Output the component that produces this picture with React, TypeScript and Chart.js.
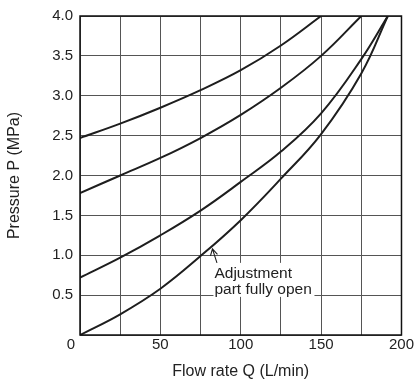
import { useEffect, useRef } from 'react';
import { Chart, registerables } from 'chart.js';

Chart.register(...registerables);

// Flow rate Q (L/min) / Pressure P (MPa) for each curve
const curve1Q = [0, 25, 50, 75, 100, 125, 150];
const curve1P = [2.47, 2.65, 2.85, 3.07, 3.32, 3.63, 4.0];
const curve2Q = [0, 25, 50, 75, 100, 125, 150, 175];
const curve2P = [1.78, 2.0, 2.22, 2.47, 2.76, 3.1, 3.5, 4.0];
const curve3Q = [0, 25, 50, 75, 100, 125, 150, 175, 191.5];
const curve3P = [0.72, 0.97, 1.25, 1.56, 1.92, 2.3, 2.78, 3.46, 4.0];
const curve4Q = [0, 25, 50, 75, 100, 125, 150, 175, 191.5];
const curve4P = [0, 0.26, 0.58, 0.99, 1.44, 1.96, 2.52, 3.28, 4.0];

const xTitle = 'Flow rate Q (L/min)';
const yTitle = 'Pressure P (MPa)';
const xLabelled = [50, 100, 150, 200];
const originLabel = '0';
const noteLines = ['Adjustment', 'part fully open'];
const noteQ = 82.4;
const noteP = 1.08;

const FONT = "'Liberation Sans', Arial, sans-serif";
const TEXT = '#222';
const LINE = '#1e1e1e';

const toPts = (q: number[], p: number[]) => q.map((v, i) => ({ x: v, y: p[i] }));

export default function App() {
  const ref = useRef<HTMLCanvasElement | null>(null);

  useEffect(() => {
    if (!ref.current) return;

    const extras = {
      id: 'extras',
      beforeDatasetsDraw(chart: any) {
        const { ctx, scales } = chart;
        const tx = scales.x.getPixelForValue(noteQ);
        const ty = scales.y.getPixelForValue(noteP);
        ctx.save();
        ctx.fillStyle = '#fff';
        ctx.fillRect(tx + 1, ty + 14, 101, 34);
        ctx.restore();
      },
      afterDatasetsDraw(chart: any) {
        const { ctx, chartArea, scales } = chart;
        ctx.save();
        ctx.strokeStyle = '#111';
        ctx.lineWidth = 1.5;
        ctx.strokeRect(chartArea.left, chartArea.top, chartArea.right - chartArea.left, chartArea.bottom - chartArea.top);
        ctx.fillStyle = TEXT;
        ctx.font = `15px ${FONT}`;
        ctx.textAlign = 'center';
        ctx.textBaseline = 'middle';
        ctx.fillText(originLabel, scales.x.getPixelForValue(0) - 9, chartArea.bottom + 10);
        const tx = scales.x.getPixelForValue(noteQ);
        const ty = scales.y.getPixelForValue(noteP);
        ctx.textAlign = 'left';
        ctx.textBaseline = 'alphabetic';
        ctx.font = `15.5px ${FONT}`;
        ctx.fillText(noteLines[0], tx + 2, ty + 29);
        ctx.fillText(noteLines[1], tx + 2, ty + 45);
        ctx.strokeStyle = LINE;
        ctx.lineWidth = 1.1;
        ctx.beginPath();
        ctx.moveTo(tx + 4.5, ty + 14);
        ctx.lineTo(tx, ty);
        ctx.moveTo(tx - 2, ty + 7);
        ctx.lineTo(tx, ty);
        ctx.lineTo(tx + 5, ty + 5.5);
        ctx.stroke();
        ctx.restore();
      },
    };

    const ds = (q: number[], p: number[]) => ({
      data: toPts(q, p),
      borderColor: LINE,
      borderWidth: 2,
      pointRadius: 0,
      fill: false,
      tension: 0.4,
    });

    const chart = new Chart(ref.current, {
      type: 'line',
      data: {
        datasets: [ds(curve1Q, curve1P), ds(curve2Q, curve2P), ds(curve3Q, curve3P), ds(curve4Q, curve4P)],
      },
      options: {
        animation: false,
        responsive: false,
        events: [],
        layout: { padding: { left: 0, top: 13, right: 13, bottom: 0 } },
        plugins: { legend: { display: false }, tooltip: { enabled: false } },
        scales: {
          x: {
            type: 'linear',
            min: 0,
            max: 200,
            afterFit(scale: any) {
              scale.height = 50;
            },
            grid: { color: '#555', lineWidth: 1, drawTicks: false },
            border: { display: false },
            ticks: {
              stepSize: 25,
              padding: 1,
              maxRotation: 0,
              autoSkip: false,
              color: TEXT,
              font: { family: FONT, size: 15 },
              callback: (v: any) => (xLabelled.includes(Number(v)) ? String(v) : ''),
            },
            title: {
              display: true,
              text: xTitle,
              color: TEXT,
              font: { family: FONT, size: 16 },
              padding: { top: 0, bottom: 4 },
            },
          },
          y: {
            type: 'linear',
            min: 0,
            max: 4,
            afterFit(scale: any) {
              scale.width = 80;
            },
            grid: { color: '#555', lineWidth: 1, drawTicks: false },
            border: { display: false },
            ticks: {
              stepSize: 0.5,
              padding: 7,
              autoSkip: false,
              color: TEXT,
              font: { family: FONT, size: 15 },
              callback: (v: any) => (Number(v) === 0 ? '' : Number(v).toFixed(1)),
            },
            title: {
              display: true,
              text: yTitle,
              color: TEXT,
              font: { family: FONT, size: 16 },
              padding: { top: 5, bottom: 0 },
            },
          },
        },
      },
      plugins: [extras],
    });
    return () => chart.destroy();
  }, []);

  return (
    <div style={{ position: 'fixed', left: 0, top: 0, width: 415, height: 385, background: '#fff' }}>
      <canvas ref={ref} width={415} height={385} style={{ display: 'block' }} />
    </div>
  );
}
